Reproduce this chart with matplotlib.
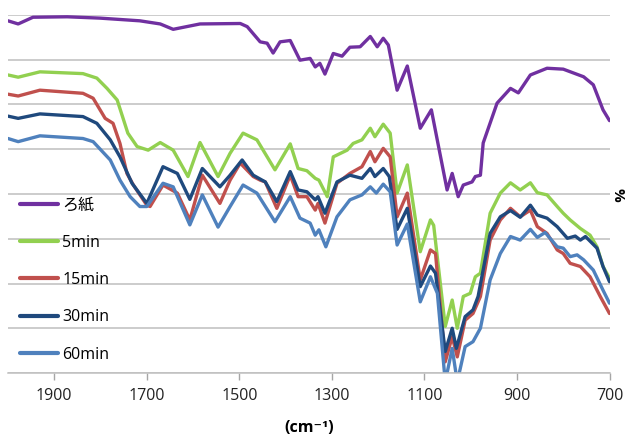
import numpy as np
import matplotlib

matplotlib.use("Agg")
import matplotlib.pyplot as plt

# ---- data (wavenumber cm-1, relative transmittance) ----
wn_paper = [2000, 1978, 1946, 1872, 1801, 1715, 1671, 1643, 1585, 1498, 1483,
            1455, 1440, 1427, 1412, 1390, 1369, 1347, 1336, 1326, 1315, 1297,
            1278, 1261, 1239, 1217, 1202, 1189, 1178, 1159, 1137, 1109, 1085,
            1051, 1040, 1027, 1016, 997, 990, 979, 973, 943, 914, 897, 871,
            835, 800, 756, 735, 714, 700]
t_paper = [78.7, 78.0, 79.5, 79.6, 79.3, 78.7, 78.0, 76.8, 78.0, 78.1, 77.4,
           74.0, 73.7, 71.5, 74.0, 74.3, 69.9, 70.3, 68.4, 69.2, 66.8, 71.4,
           70.8, 72.8, 72.9, 75.2, 72.9, 74.8, 73.3, 63.2, 68.6, 54.7, 58.8,
           40.9, 44.6, 39.4, 42.0, 42.7, 43.9, 44.2, 51.4, 60.3, 63.6, 62.6, 66.6,
           68.1, 67.9, 66.2, 64.4, 58.8, 56.4]

wn_5 = [2000, 1978, 1931, 1838, 1808, 1786, 1764, 1741, 1721, 1697, 1671,
        1643, 1611, 1585, 1546, 1520, 1492, 1462, 1423, 1390, 1373, 1354,
        1336, 1328, 1310, 1297, 1267, 1254, 1235, 1217, 1207, 1189, 1174,
        1159, 1137, 1109, 1087, 1080, 1055, 1040, 1029, 1016, 1001, 990, 979,
        958, 936, 914, 893, 871, 856, 835, 813, 800, 785, 763, 742, 727, 714,
        700]
t_5 = [66.6, 66.1, 67.3, 66.9, 65.9, 63.6, 61.0, 53.6, 50.6, 49.8, 51.5,
       49.8, 43.9, 51.5, 43.9, 49.1, 53.6, 52.1, 45.4, 51.2, 45.7, 45.2,
       43.5, 43.1, 39.4, 48.3, 49.8, 51.3, 52.1, 54.7, 52.8, 55.6, 53.6,
       40.2, 46.5, 27.1, 34.2, 33.0, 10.4, 16.3, 10.0, 17.1, 17.8, 21.5, 22.3,
       35.7, 40.2, 42.5, 40.9, 42.5, 40.3, 39.8, 37.2, 35.7, 34.2, 32.3, 30.8,
       28.2, 23.8, 21.2]

wn_15 = [2000, 1978, 1931, 1838, 1816, 1801, 1790, 1773, 1758, 1743, 1729,
         1700, 1693, 1665, 1634, 1607, 1580, 1542, 1520, 1498, 1470, 1455,
         1444, 1419, 1390, 1373, 1354, 1336, 1330, 1315, 1289, 1261, 1235,
         1217, 1207, 1189, 1174, 1159, 1137, 1109, 1087, 1076, 1055, 1040,
         1029, 1012, 995, 979, 958, 936, 914, 893, 871, 856, 835, 813, 800,
         785, 763, 742, 720, 700]
t_15 = [62.3, 61.9, 63.2, 62.5, 61.4, 58.8, 56.9, 55.8, 51.3, 44.6, 42.0,
        37.5, 37.2, 42.0, 40.2, 34.2, 44.2, 37.9, 43.1, 46.9, 43.9, 43.1,
        42.7, 36.8, 44.2, 39.4, 39.4, 36.4, 37.9, 33.5, 42.4, 44.6, 46.1,
        49.5, 47.2, 50.2, 48.3, 34.9, 40.2, 20.8, 27.5, 26.7, 2.5, 8.1,
        3.6, 11.8, 13.3, 17.1, 29.7, 34.2, 36.8, 34.9, 36.4, 32.7, 31.2, 27.5,
        26.7, 24.5, 23.8, 21.5, 17.1, 13.3]

wn_30 = [2000, 1978, 1931, 1838, 1808, 1779, 1758, 1732, 1700, 1665, 1634,
         1607, 1580, 1542, 1520, 1494, 1470, 1444, 1419, 1390, 1373, 1354,
         1336, 1330, 1315, 1289, 1261, 1235, 1217, 1207, 1189, 1176, 1159,
         1137, 1109, 1087, 1076, 1055, 1040, 1031, 1012, 995, 984, 958, 936,
         914, 893, 871, 856, 835, 813, 791, 774, 763, 752, 727, 714, 700]
t_30 = [57.4, 56.9, 57.9, 57.3, 55.8, 52.1, 48.3, 42.4, 37.9, 46.1, 44.6,
        38.8, 45.7, 41.6, 44.2, 47.6, 44.2, 42.7, 38.3, 45.0, 40.9, 40.5,
        38.7, 39.4, 35.7, 42.7, 44.2, 43.5, 45.7, 43.9, 45.7, 43.9, 32.1,
        36.8, 19.3, 23.9, 22.3, 4.8, 10.0, 5.5, 12.6, 14.1, 17.1, 31.2, 34.9,
        36.3, 34.8, 37.5, 35.3, 34.6, 32.7, 30.1, 30.6, 29.7, 30.5, 27.9, 23.8,
        20.4]

wn_60 = [2000, 1978, 1931, 1838, 1816, 1779, 1758, 1736, 1715, 1700, 1665,
         1643, 1607, 1580, 1546, 1520, 1492, 1462, 1423, 1390, 1369, 1347,
         1336, 1328, 1313, 1289, 1261, 1235, 1217, 1204, 1189, 1174, 1159,
         1137, 1109, 1087, 1072, 1055, 1040, 1029, 1012, 995, 979, 958, 936,
         914, 893, 871, 856, 839, 813, 800, 785, 770, 756, 735, 714, 700]
t_60 = [52.4, 51.7, 53.0, 52.4, 51.7, 47.6, 43.1, 39.4, 37.2, 37.2, 42.4,
        41.6, 33.1, 39.8, 32.6, 37.2, 42.0, 40.2, 33.8, 39.4, 34.6, 33.5,
        30.8, 32.0, 28.2, 34.9, 38.7, 39.8, 41.6, 40.2, 42.2, 40.5, 28.6,
        33.3, 15.9, 21.5, 17.8, -2.0, 5.5, -2.0, 5.9, 7.0, 10.0, 20.8, 26.7,
        30.5, 29.7, 32.1, 30.3, 31.4, 28.2, 27.9, 26.0, 26.4, 25.3, 23.0, 18.5,
        15.6]

labels = ["ろ紙", "5min", "15min", "30min", "60min"]
colors = ["#7030A0", "#92D050", "#C0504D", "#1F497D", "#4F81BD"]
xticks = [1900, 1700, 1500, 1300, 1100, 900, 700]

plt.rcParams["font.family"] = ["Open Sans", "DejaVu Sans", "Noto Sans CJK JP"]

fig = plt.figure(figsize=(6.28, 4.38), dpi=100)
ax = fig.add_axes([8 / 628, 65 / 438, 601.5 / 628, 358 / 438])

series = [(wn_paper, t_paper), (wn_5, t_5), (wn_15, t_15), (wn_30, t_30),
          (wn_60, t_60)]
for (x, y), lab, c in zip(series, labels, colors):
    ax.plot(x, y, color=c, lw=2.4, label=lab, solid_joinstyle="round",
            solid_capstyle="round")

ax.set_xlim(2000, 700)
ax.set_ylim(0, 80)
ax.set_xticks(xticks)
ax.set_yticks(np.arange(0, 81, 10))
ax.yaxis.grid(True, color="#BFBFBF", lw=1.1)
ax.set_axisbelow(True)
ax.tick_params(axis="y", left=False, labelleft=False)
ax.tick_params(axis="x", direction="out", length=5, width=1, color="#A6A6A6",
               labelsize=11.5, pad=6, labelcolor="#222222")
for s in ["top", "left", "right"]:
    ax.spines[s].set_visible(False)
ax.spines["bottom"].set_color("#BFBFBF")
ax.spines["bottom"].set_linewidth(1.1)

ax.set_xlabel("(cm⁻¹)", fontsize=11.5, fontweight="bold", labelpad=11)
ax.text(1.014, 0.497, "%", transform=ax.transAxes, rotation=-90,
        fontsize=11, fontweight="bold", ha="center", va="center")

leg = ax.legend(loc="upper left", bbox_to_anchor=(0.02, 0.49), frameon=False,
                fontsize=11.5, handlelength=2.4, handletextpad=0.25,
                labelspacing=1.33, borderpad=0, borderaxespad=0)
for h in leg.legend_handles:
    h.set_linewidth(3)

fig.savefig("out.png", dpi=100)
